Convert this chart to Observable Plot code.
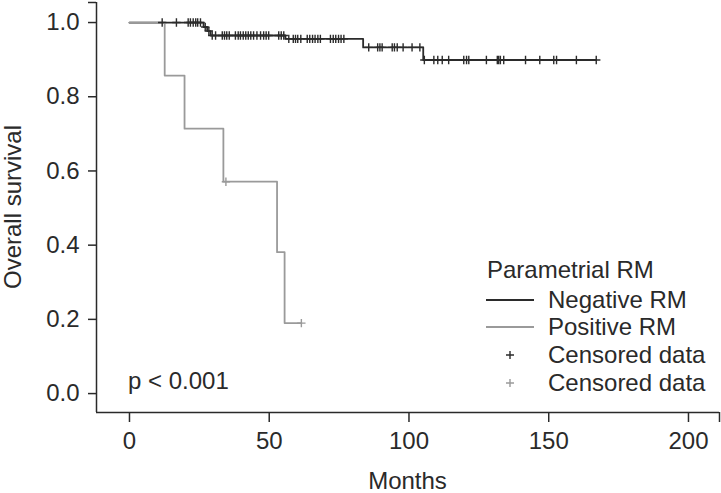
<!DOCTYPE html>
<html>
<head>
<meta charset="utf-8">
<script src="https://cdn.jsdelivr.net/npm/d3@7"></script>
<script src="https://cdn.jsdelivr.net/npm/@observablehq/plot@0.6"></script>
<style>
  html, body { margin: 0; padding: 0; background: #fff; }
  svg { display: block; }
</style>
</head>
<body>
<div id="chart"></div>
<script>
// ---- Data ----
const xTicks = [0, 50, 100, 150, 200];
const yTicks = [0, 0.2, 0.4, 0.6, 0.8, 1.0];

// Negative RM (black)
const negEventTimes = [26.5, 27.8, 29.0, 55.8, 83.6, 105.1];
const negEventSurv  = [0.988, 0.977, 0.965, 0.956, 0.933, 0.899];
const negCensorTimes = [11.7, 16.8, 21.0, 21.8, 22.8, 23.7, 24.4, 25.4, 27.1, 28.4, 29.6,
  30.8, 33.2, 34.0, 34.8, 35.7, 37.9, 38.9, 39.7, 40.7, 41.6, 42.5, 43.4, 44.4, 45.6, 46.9,
  48.0, 48.9, 49.8, 53.4, 54.3, 55.2, 57.0, 58.6, 59.4, 60.2, 61.3, 63.6, 64.5, 65.5, 66.4,
  67.4, 68.3, 71.9, 72.9, 73.8, 74.8, 75.7, 76.7, 85.6, 88.8, 89.6, 90.4, 94.0, 94.8, 95.8,
  97.9, 101.1, 103.9, 105.5, 108.9, 110.3, 111.9, 114.2, 119.6, 120.6, 121.4, 127.7, 131.6,
  132.1, 132.7, 133.9, 141.7, 146.8, 151.8, 152.8, 159.9, 167.0];
const negEnd = 167.0;

// Positive RM (gray)
const posEventTimes = [12.6, 19.7, 33.6, 52.8, 55.5];
const posEventSurv  = [0.857, 0.714, 0.571, 0.381, 0.190];
const posCensorTimes = [34.5, 61.5];
const posEnd = 61.5;

const groups = ["Negative RM", "Positive RM"];
const colors = ["#2b2b2b", "#9a9a9a"];

// ---- Build step tables ----
function stepTable(group, times, surv, end) {
  const rows = [{group, t: 0, s: 1}];
  times.forEach((t, i) => rows.push({group, t, s: surv[i]}));
  rows.push({group, t: end, s: surv[surv.length - 1]});
  return rows;
}
function survAt(times, surv, t) {
  let s = 1;
  times.forEach((et, i) => { if (et <= t) s = surv[i]; });
  return s;
}
const lines = [
  ...stepTable(groups[0], negEventTimes, negEventSurv, negEnd),
  ...stepTable(groups[1], posEventTimes, posEventSurv, posEnd)
];
const censors = [
  ...negCensorTimes.map(t => ({group: groups[0], t, s: survAt(negEventTimes, negEventSurv, t)})),
  ...posCensorTimes.map(t => ({group: groups[1], t, s: survAt(posEventTimes, posEventSurv, t)}))
];

const xmin = -11.8, xmax = 211.1, ymin = -0.051, ymax = 1.054;
const ink = "#2a2a2a";
const FS = 24;

const svg = Plot.plot({
  width: 721,
  height: 493,
  marginLeft: 96,
  marginRight: 2,
  marginTop: 2,
  marginBottom: 81,
  style: {fontFamily: "'Liberation Sans', Arial, sans-serif", fontSize: FS + "px", color: ink, background: "#fff"},
  x: {domain: [xmin, xmax]},
  y: {domain: [ymin, ymax]},
  color: {domain: groups, range: colors},
  marks: [
    Plot.ruleX([xmin], {stroke: ink, strokeWidth: 1.5}),
    Plot.ruleY([ymin], {stroke: ink, strokeWidth: 1.5}),
    Plot.axisY(yTicks, {tickFormat: d3.format(".1f"), tickSize: 8, tickPadding: 9, strokeWidth: 1.5, fontSize: FS, label: null}),
    Plot.axisY([ymax], {tickFormat: () => "", tickSize: 8, strokeWidth: 1.5, label: null}),
    Plot.axisX(xTicks, {tickSize: 10, tickPadding: 9, strokeWidth: 1.5, fontSize: FS, label: null}),
    Plot.axisX([xmax], {tickFormat: () => "", tickSize: 10, strokeWidth: 1.5, label: null}),
    Plot.line(lines, {x: "t", y: "s", z: "group", stroke: "group", curve: "step-after", strokeWidth: 1.8}),
    Plot.dot(censors, {x: "t", y: "s", stroke: "group", symbol: "plus", r: 2.8, strokeWidth: 1.4})
  ]
});

// ---- Annotations and legend ----
const g = d3.select(svg).append("g")
  .attr("font-family", "'Liberation Sans', Arial, sans-serif")
  .attr("font-size", FS)
  .attr("text-anchor", "start")
  .attr("fill", ink);

g.append("text").attr("transform", "translate(21,207) rotate(-90)")
  .attr("text-anchor", "middle").text("Overall survival");
g.append("text").attr("x", 407.5).attr("y", 489)
  .attr("text-anchor", "middle").text("Months");
g.append("text").attr("x", 128).attr("y", 389).text("p < 0.001");

g.append("text").attr("x", 487).attr("y", 270).attr("dy", "0.35em").text("Parametrial RM");
const rows = [
  {label: "Negative RM", type: "line", color: colors[0], y: 300},
  {label: "Positive RM", type: "line", color: colors[1], y: 327},
  {label: "Censored data", type: "plus", color: colors[0], y: 355},
  {label: "Censored data", type: "plus", color: colors[1], y: 383}
];
rows.forEach(r => {
  if (r.type === "line") {
    g.append("line").attr("x1", 486).attr("x2", 534).attr("y1", r.y).attr("y2", r.y)
      .attr("stroke", r.color).attr("stroke-width", 1.8);
  } else {
    g.append("path").attr("d", `M506,${r.y}h8M510,${r.y - 4}v8`)
      .attr("stroke", r.color).attr("stroke-width", 1.4).attr("fill", "none");
  }
  g.append("text").attr("x", 548).attr("y", r.y).attr("dy", "0.35em").text(r.label);
});

document.getElementById("chart").appendChild(svg);
</script>
</body>
</html>
